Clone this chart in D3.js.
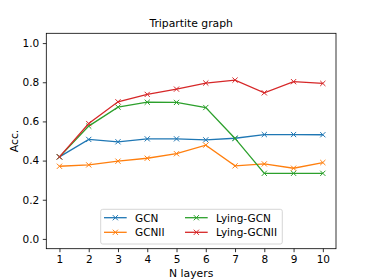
<!DOCTYPE html>
<html>
<head>
<meta charset="utf-8">
<script src="https://cdn.jsdelivr.net/npm/d3@7"></script>
<style>
  body { margin: 0; background: #fff; }
  svg text { font-family: "DejaVu Sans", sans-serif; fill: #000; }
</style>
</head>
<body>
<div id="chart"></div>
<script>
// layer counts on the x axis
var layers = [1, 2, 3, 4, 5, 6, 7, 8, 9, 10];

// accuracy
var gcn       = [0.419, 0.508, 0.496, 0.511, 0.511, 0.506, 0.514, 0.533, 0.533, 0.532];
var gcnii     = [0.371, 0.378, 0.397, 0.412, 0.435, 0.479, 0.373, 0.383, 0.361, 0.390];
var lyingGcn  = [0.419, 0.576, 0.673, 0.698, 0.697, 0.671, 0.513, 0.335, 0.335, 0.335];
var lyingGcnii= [0.419, 0.589, 0.700, 0.738, 0.765, 0.796, 0.811, 0.746, 0.803, 0.794];

var yTicks = [0.0, 0.2, 0.4, 0.6, 0.8, 1.0];

var seriesList = [
    {name: "GCN", values: gcn, color: "#1f77b4"},
    {name: "GCNII", values: gcnii, color: "#ff7f0e"},
    {name: "Lying-GCN", values: lyingGcn, color: "#2ca02c"},
    {name: "Lying-GCNII", values: lyingGcnii, color: "#d62728"}
];

var W = 374, H = 280;
var margin = {top: 33.3, right: 38, bottom: 31.3, left: 46.3};
var width = W - margin.left - margin.right,
    height = H - margin.top - margin.bottom;

var svg = d3.select("#chart").append("svg").attr("width", W).attr("height", H);

var x = d3.scaleLinear().domain([0.55, 10.45]).range([0, width]);
var y = d3.scaleLinear().domain([-0.05, 1.05]).range([height, 0]);

var g = svg.append("g").attr("transform", "translate(" + margin.left + "," + margin.top + ")");

// axes
var xAxis = d3.axisBottom(x).tickValues(layers).tickFormat(d3.format("d")).tickSize(3.5).tickPadding(3.3);
var yAxis = d3.axisLeft(y).tickValues(yTicks).tickFormat(d3.format(".1f")).tickSize(3.5).tickPadding(3.5);

var gx = g.append("g").attr("transform", "translate(0," + height + ")").call(xAxis);
var gy = g.append("g").call(yAxis);
[gx, gy].forEach(function(a) {
    a.select(".domain").remove();
    a.selectAll("line").attr("stroke", "#000").attr("stroke-width", 0.8);
    a.selectAll("text").attr("font-size", 10.5).attr("font-family", "DejaVu Sans").attr("fill", "#000");
});

// lines + x markers
var line = d3.line()
    .x(function(d, i) { return x(layers[i]); })
    .y(function(d) { return y(d); });

var ms = 2.6;
function xMarker(sel, cx, cy, color) {
    sel.append("path")
        .attr("d", "M" + (cx - ms) + "," + (cy - ms) + "L" + (cx + ms) + "," + (cy + ms) +
                   "M" + (cx - ms) + "," + (cy + ms) + "L" + (cx + ms) + "," + (cy - ms))
        .attr("stroke", color).attr("stroke-width", 1).attr("fill", "none");
}

seriesList.forEach(function(s) {
    g.append("path")
        .datum(s.values)
        .attr("d", line)
        .attr("fill", "none")
        .attr("stroke", s.color)
        .attr("stroke-width", 1.3);
    var mg = g.append("g");
    s.values.forEach(function(v, i) {
        xMarker(mg, x(layers[i]), y(v), s.color);
    });
});

// frame
g.append("rect")
    .attr("width", width).attr("height", height)
    .attr("fill", "none").attr("stroke", "#000").attr("stroke-width", 0.8);

// title and labels
svg.append("text")
    .attr("x", margin.left + width / 2).attr("y", 27.3)
    .attr("text-anchor", "middle").attr("font-size", 10.8)
    .text("Tripartite graph");

svg.append("text")
    .attr("x", margin.left + width / 2).attr("y", 276.5)
    .attr("text-anchor", "middle").attr("font-size", 10.8)
    .text("N layers");

svg.append("text")
    .attr("transform", "translate(18.3," + (margin.top + height / 2) + ") rotate(-90)")
    .attr("text-anchor", "middle").attr("font-size", 10.8)
    .text("Acc.");

// legend
var lg = svg.append("g");
lg.append("rect")
    .attr("x", 100.7).attr("y", 209.3).attr("width", 181.6).attr("height", 34.7)
    .attr("rx", 2).attr("fill", "#fff").attr("fill-opacity", 0.8)
    .attr("stroke", "#ccc").attr("stroke-width", 0.8);

seriesList.forEach(function(s, i) {
    var col = Math.floor(i / 2), row = i % 2;
    var lx = col === 0 ? 104 : 185;
    var ly = row === 0 ? 217.7 : 232.3;
    lg.append("line")
        .attr("x1", lx).attr("x2", lx + 22.7).attr("y1", ly).attr("y2", ly)
        .attr("stroke", s.color).attr("stroke-width", 1.3);
    xMarker(lg, lx + 11.35, ly, s.color);
    lg.append("text")
        .attr("x", lx + 31).attr("y", ly + 3.8)
        .attr("font-size", 10.5)
        .text(s.name);
});
</script>
</body>
</html>
